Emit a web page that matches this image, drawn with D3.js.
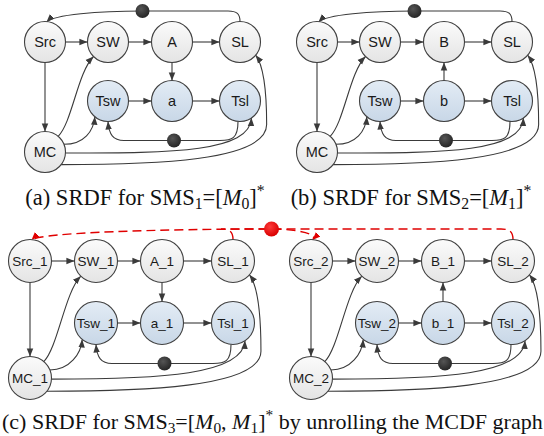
<!DOCTYPE html>
<html><head><meta charset="utf-8">
<script src="https://cdn.jsdelivr.net/npm/d3@7"></script>
<style>body{margin:0;background:#fff}svg{display:block}</style>
</head><body><svg id="chart" width="544" height="436"></svg>
<script>
// ---------------- data ----------------
// nodes: [label, column, row]  (row 0: actors, row 1: tasks, row 2: mode controller)
const nodesA  = [["Src",0,0],["SW",1,0],["A",2,0],["SL",3,0],["Tsw",1,1],["a",2,1],["Tsl",3,1],["MC",0,2]];
const nodesB  = [["Src",0,0],["SW",1,0],["B",2,0],["SL",3,0],["Tsw",1,1],["b",2,1],["Tsl",3,1],["MC",0,2]];
const nodesC1 = [["Src_1",0,0],["SW_1",1,0],["A_1",2,0],["SL_1",3,0],["Tsw_1",1,1],["a_1",2,1],["Tsl_1",3,1],["MC_1",0,2]];
const nodesC2 = [["Src_2",0,0],["SW_2",1,0],["B_1",2,0],["SL_2",3,0],["Tsw_2",1,1],["b_1",2,1],["Tsl_2",3,1],["MC_2",0,2]];
// edges: [source, target, initial tokens]
const edgesA  = [["Src","SW",0],["SW","A",0],["A","SL",0],["Src","MC",0],["A","a",0],["Tsw","a",0],["a","Tsl",0],
                 ["SL","Src",1],["Tsl","Tsw",1],["MC","SW",0],["MC","Tsw",0],["MC","Tsl",0],["MC","SL",0]];
const edgesB  = [["Src","SW",0],["SW","B",0],["B","SL",0],["Src","MC",0],["b","B",0],["Tsw","b",0],["b","Tsl",0],
                 ["SL","Src",1],["Tsl","Tsw",1],["MC","SW",0],["MC","Tsw",0],["MC","Tsl",0],["MC","SL",0]];
const edgesC1 = [["Src_1","SW_1",0],["SW_1","A_1",0],["A_1","SL_1",0],["Src_1","MC_1",0],["A_1","a_1",0],["Tsw_1","a_1",0],["a_1","Tsl_1",0],
                 ["Tsl_1","Tsw_1",1],["MC_1","SW_1",0],["MC_1","Tsw_1",0],["MC_1","Tsl_1",0],["MC_1","SL_1",0]];
const edgesC2 = [["Src_2","SW_2",0],["SW_2","B_1",0],["B_1","SL_2",0],["Src_2","MC_2",0],["b_1","B_1",0],["Tsw_2","b_1",0],["b_1","Tsl_2",0],
                 ["Tsl_2","Tsw_2",1],["MC_2","SW_2",0],["MC_2","Tsw_2",0],["MC_2","Tsl_2",0],["MC_2","SL_2",0]];
// unrolling edges between the two copies in (c) (drawn dashed red)
const crossEdgesC = [["SL_1","Src_2",0],["SL_2","Src_1",1]];
// captions: [text, kind]  kind: n normal, sub subscript, it italic, sup superscript
const captionA = [["(a)  SRDF for SMS","n"],["1","sub"],["=[","n"],["M","it"],["0","sub"],["]","n"],["*","sup"]];
const captionB = [["(b)  SRDF for SMS","n"],["2","sub"],["=[","n"],["M","it"],["1","sub"],["]","n"],["*","sup"]];
const captionC = [["(c)  SRDF for SMS","n"],["3","sub"],["=[","n"],["M","it"],["0","sub"],[", ","n"],["M","it"],["1","sub"],["]","n"],["*","sup"],[" by unrolling the MCDF graph","n"]];

// ---------------- layout ----------------
const svg = d3.select("#chart");
const defs = svg.append("defs");
function grad(id, c0, c1){
  const g = defs.append("linearGradient").attr("id",id).attr("x1",0).attr("y1",0).attr("x2",0).attr("y2",1);
  g.append("stop").attr("offset","0%").attr("stop-color",c0);
  g.append("stop").attr("offset","100%").attr("stop-color",c1);
}
grad("gGray","#fbfbfb","#e4e4e4");
grad("gBlue","#e3ecf5","#c8d7e7");
const rg = defs.append("radialGradient").attr("id","gRed").attr("cx","40%").attr("cy","35%").attr("r","65%");
rg.append("stop").attr("offset","0%").attr("stop-color","#ff3b3b");
rg.append("stop").attr("offset","100%").attr("stop-color","#d80000");
const kg = defs.append("radialGradient").attr("id","gTok").attr("cx","40%").attr("cy","35%").attr("r","65%");
kg.append("stop").attr("offset","0%").attr("stop-color","#555");
kg.append("stop").attr("offset","100%").attr("stop-color","#262626");

function marker(id, color){
  defs.append("marker").attr("id",id).attr("viewBox","0 -5 10 10")
    .attr("refX",9).attr("refY",0).attr("markerWidth",9).attr("markerHeight",9)
    .attr("markerUnits","userSpaceOnUse").attr("orient","auto")
    .append("path").attr("d","M0,-3.6L9,0L0,3.6Z").attr("fill",color);
}
marker("arr","#3a3a3a");
marker("arrRed","#e00000");

const panels = [
  {key:"a", nodes:nodesA, edges:edgesA, x:d3.scaleLinear().domain([0,1,2,3]).range([45,108,172,240]), y:d3.scaleLinear().domain([0,1,2]).range([42,101,152]), r:20.5, fs:14.5},
  {key:"b", nodes:nodesB, edges:edgesB, x:d3.scaleLinear().domain([0,1,2,3]).range([317,380,444,512]), y:d3.scaleLinear().domain([0,1,2]).range([42,101,152]), r:20.5, fs:14.5},
  {key:"c", nodes:nodesC1, edges:edgesC1, x:d3.scaleLinear().domain([0,1,2,3]).range([30,96,162,233]), y:d3.scaleLinear().domain([0,1,2]).range([261,323,378]), r:21.5, fs:13.5},
  {key:"c", nodes:nodesC2, edges:edgesC2, x:d3.scaleLinear().domain([0,1,2,3]).range([311,377,443,513]), y:d3.scaleLinear().domain([0,1,2]).range([261,323,378]), r:21.5, fs:13.5}
];

const gEdges = svg.append("g"), gNodes = svg.append("g"), gTok = svg.append("g");
const pos = {};
panels.forEach(p => p.nodes.forEach(([id,c,rw]) => {
  pos[p.key + ":" + id] = {id, x:p.x(c), y:p.y(rw), col:c, row:rw, r:p.r, fs:p.fs};
}));

function pol(n, deg){ const a = deg*Math.PI/180; return [n.x + n.r*Math.cos(a), n.y + n.r*Math.sin(a)]; }

function route(s, t){
  const r = s.r, p = d3.path(), tok = [];
  if (s.row===0 && t.row===0 && s.col > t.col) {           // feedback over the top
    const yTop = s.y - r - 10.5, tx = (s.x + t.x)/2;
    p.moveTo(s.x, s.y - r);
    p.bezierCurveTo(s.x, yTop + 3, s.x - 3, yTop, s.x - 12, yTop);
    p.lineTo(tx, yTop);
    p.bezierCurveTo(tx - 0.45*(tx - t.x), yTop, t.x + 9, t.y - r - 7, t.x + 1.5, t.y - r + 0.5);
    tok.push([tx, yTop]);
  } else if (s.row===1 && t.row===1 && s.col > t.col) {    // feedback underneath
    const yB = s.y + r + 19, tx = (s.x + t.x)/2;
    p.moveTo(s.x - 2, s.y + r);
    p.bezierCurveTo(s.x - 2, yB - 2, s.x - 8, yB, s.x - 20, yB);
    p.lineTo(t.x + 16, yB);
    p.bezierCurveTo(t.x + 5, yB, t.x + 1, yB - 6, t.x, t.y + r);
    tok.push([tx, yB]);
  } else if (s.row===2 && t.row===0 && t.col===1) {        // MC -> SW
    const a = pol(s,-50), b = pol(t,135);
    p.moveTo(a[0],a[1]); p.bezierCurveTo(a[0]+14, a[1]-14, b[0]-16, b[1]+16, b[0], b[1]);
  } else if (s.row===2 && t.row===1 && t.col===1) {        // MC -> Tsw
    const a = pol(s,-22), b = pol(t,130);
    p.moveTo(a[0],a[1]); p.bezierCurveTo(a[0]+20, a[1], b[0]-1, b[1]+14, b[0], b[1]);
  } else if (s.row===2 && t.row===1 && t.col===3) {        // MC -> Tsl
    const a = pol(s,3), b = pol(t,56);
    p.moveTo(a[0],a[1]); p.bezierCurveTo(a[0]+110, a[1], b[0]-2, b[1]+34, b[0], b[1]);
  } else if (s.row===2 && t.row===0 && t.col===3) {        // MC -> SL
    const a = pol(s,38), b = pol(t,40), xR = t.x + 1.3*t.r;
    p.moveTo(a[0],a[1]);
    p.bezierCurveTo(a[0]+90, a[1], xR, a[1]-3, xR, a[1]-40);
    p.bezierCurveTo(xR, b[1]+28, b[0]+6, b[1]+8, b[0], b[1]);
  } else {                                                 // straight
    const ang = Math.atan2(t.y - s.y, t.x - s.x);
    p.moveTo(s.x + s.r*Math.cos(ang), s.y + s.r*Math.sin(ang));
    p.lineTo(t.x - t.r*Math.cos(ang), t.y - t.r*Math.sin(ang));
  }
  return {d:p.toString(), tok};
}

function drawEdges(key, list, red){
  list.forEach(([si, ti, k]) => {
    const rt = route(pos[key+":"+si], pos[key+":"+ti]);
    gEdges.append("path").attr("d", rt.d).attr("fill","none")
      .attr("stroke", red ? "#e00000" : "#3a3a3a").attr("stroke-width", red ? 1.4 : 1.1)
      .attr("stroke-dasharray", red ? "9,5" : null)
      .attr("marker-end", red ? "url(#arrRed)" : "url(#arr)");
    if (k > 0) rt.tok.forEach(([x,y]) => gTok.append("circle").attr("cx",x).attr("cy",y)
        .attr("r", red ? 7.5 : 7).attr("fill", red ? "url(#gRed)" : "url(#gTok)"));
  });
}
panels.forEach(p => drawEdges(p.key, p.edges, false));
drawEdges("c", crossEdgesC, true);

Object.values(pos).forEach(n => {
  gNodes.append("circle").attr("cx",n.x).attr("cy",n.y).attr("r",n.r)
    .attr("fill", n.row===1 ? "url(#gBlue)" : "url(#gGray)")
    .attr("stroke","#404040").attr("stroke-width",1.1);
  gNodes.append("text").attr("x",n.x).attr("y",n.y).attr("dy","0.36em")
    .attr("text-anchor","middle").attr("font-family","Liberation Sans, Arial, sans-serif")
    .attr("font-size",n.fs).attr("fill","#1a1a1a").text(n.id);
});

// captions
function caption(segs, x, y, anchor, fs){
  const t = svg.append("text").attr("x",x).attr("y",y).attr("text-anchor",anchor)
    .attr("font-family","Liberation Serif, Times New Roman, serif").attr("font-size",fs).attr("fill","#111");
  let cur = 0;
  segs.forEach(([s,kind]) => {
    const target = kind==="sub" ? 3.5 : kind==="sup" ? -9 : 0;
    const ts = t.append("tspan").attr("dy", target - cur).text(s);
    cur = target;
    if (kind==="sub" || kind==="sup") ts.attr("font-size",fs*0.7);
    if (kind==="it") ts.attr("font-style","italic");
  });
}
caption(captionA, 145, 205, "middle", 22.5);
caption(captionB, 411, 205, "middle", 22.5);
caption(captionC, 2, 429, "start", 22);
</script></body></html>
